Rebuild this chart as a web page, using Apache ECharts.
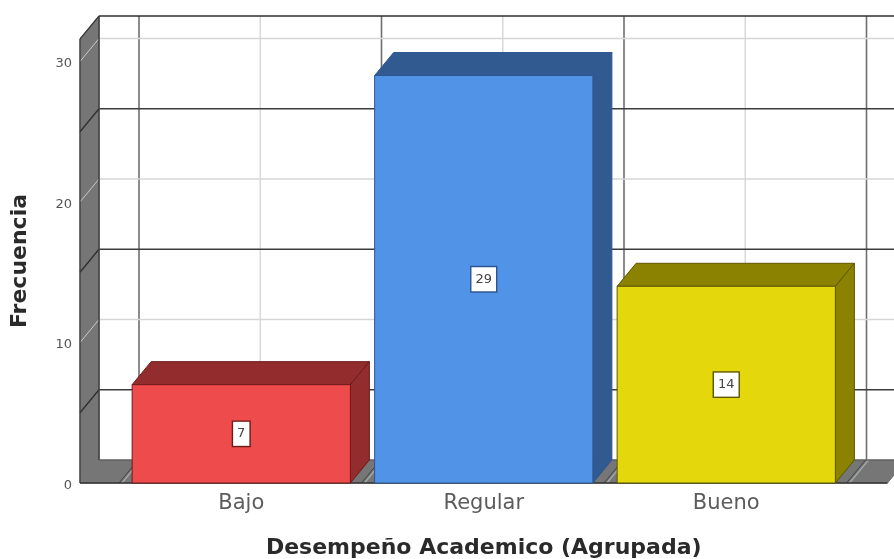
<!DOCTYPE html>
<html><head><meta charset="utf-8">
<style>html,body{margin:0;padding:0;background:#fff}#c{width:894px;height:559px}</style>
<script src="https://cdn.jsdelivr.net/npm/echarts@6/dist/echarts.min.js"></script>
</head><body><div id="c"></div>
<script>
const categories = ['Bajo', 'Regular', 'Bueno'];
const frecuencia = [7, 29, 14];
const frontColors = ['#ee4c4c', '#5193e6', '#e4d70c'];
const sideColors = ['#932c2c', '#315a90', '#8a8200'];
const edgeColors = ['#6e1a1a', '#2f5690', '#5c5600'];
const yTicks = [0, 10, 20, 30];
const darkRows = [5, 15, 25];
const lightRows = [10, 20, 30];
const yMax = 31.6;
const depthX = 19, depthY = -23;

const chart = echarts.init(document.getElementById('c'), null, {renderer: 'canvas'});

function line(x1, y1, x2, y2, stroke, w) {
  return {type: 'line', shape: {x1, y1, x2, y2}, style: {stroke, lineWidth: w}, silent: true};
}
function poly(points, fill, stroke) {
  return {type: 'polygon', shape: {points}, style: {fill, stroke, lineWidth: 1}, silent: true};
}

function renderRoom(params, api) {
  if (params.dataIndex !== 0) return null;
  const band = api.size([1, 0])[0];
  const x0 = api.coord([0, 0])[0] - band / 2;
  const yOf = v => api.coord([0, v])[1];
  const wallW = 40;
  const xL = x0 - wallW;
  const xEnd = x0 + band * categories.length + wallW;
  const yB = yOf(0), yT = yOf(yMax);
  const W = api.getWidth();
  const kids = [];
  kids.push({type: 'rect', shape: {x: xL + depthX, y: yT + depthY, width: xEnd - xL, height: yB - yT},
    style: {fill: '#fff'}, silent: true});
  for (let i = 0; i < categories.length; i++) {
    const c = x0 + band * (i + 0.5) + depthX;
    kids.push(line(c, yT + depthY, c, yB + depthY, '#d6d6d6', 1.4));
  }
  for (let i = 0; i <= categories.length; i++) {
    const e = x0 + band * i + depthX;
    kids.push(line(e, yT + depthY, e, yB + depthY, '#6f6f6f', 1.6));
  }
  lightRows.forEach(v => kids.push(line(xL + depthX, yOf(v) + depthY, W, yOf(v) + depthY, '#d6d6d6', 1.4)));
  darkRows.forEach(v => kids.push(line(xL + depthX, yOf(v) + depthY, W, yOf(v) + depthY, '#3c3c3c', 1.4)));
  kids.push(line(xL + depthX, yT + depthY, W, yT + depthY, '#2c2c2c', 1.6));
  kids.push(poly([[xL, yB], [xEnd, yB], [xEnd + depthX, yB + depthY], [xL + depthX, yB + depthY]], '#767676', '#767676'));
  for (let i = 0; i <= categories.length; i++) {
    const e = x0 + band * i;
    kids.push(line(e + 2, yB, e + 2 + depthX, yB + depthY, '#a0a8a8', 1.4));
    kids.push(line(e - 1, yB, e - 1 + depthX, yB + depthY, '#444', 1));
  }
  kids.push(poly([[xL, yB], [xL + depthX, yB + depthY], [xL + depthX, yT + depthY], [xL, yT]], '#767676', '#767676'));
  lightRows.forEach(v => kids.push(line(xL, yOf(v), xL + depthX, yOf(v) + depthY, '#c8c8c8', 1)));
  darkRows.forEach(v => kids.push(line(xL, yOf(v), xL + depthX, yOf(v) + depthY, '#2e2e2e', 1.3)));
  kids.push(line(xL, yB, xL, yT, '#3a3a3a', 1.2));
  kids.push(line(xL + depthX, yB + depthY, xL + depthX, yT + depthY, '#3a3a3a', 1.4));
  kids.push(line(xL, yT, xL + depthX, yT + depthY, '#3a3a3a', 1.2));
  kids.push(line(xL + depthX, yB + depthY, xEnd + depthX, yB + depthY, '#555', 1));
  kids.push(line(xL, yB, xEnd, yB, '#333', 1.5));
  return {type: 'group', children: kids};
}

function renderBar(params, api) {
  const i = params.dataIndex;
  const v = api.value(1);
  const w = api.size([1, 0])[0] * 0.9;
  const p = api.coord([i, v]);
  const b = api.coord([i, 0]);
  const l = p[0] - w / 2, r = p[0] + w / 2, t = p[1], y0 = b[1];
  const edge = edgeColors[i];
  return {type: 'group', children: [
    poly([[l, t], [r, t], [r + depthX, t + depthY], [l + depthX, t + depthY]], sideColors[i], edge),
    poly([[r, t], [r + depthX, t + depthY], [r + depthX, y0 + depthY], [r, y0]], sideColors[i], edge),
    poly([[l, t], [r, t], [r, y0], [l, y0]], frontColors[i], edge),
    {type: 'text', x: p[0], y: (t + y0) / 2, silent: true, style: {
      text: String(v), align: 'center', verticalAlign: 'middle',
      font: '13px "DejaVu Sans"', fill: '#444', backgroundColor: '#fff',
      borderColor: edge, borderWidth: 1.4, padding: [6, 4, 5, 4]
    }}
  ]};
}

chart.setOption({
  animation: false,
  backgroundColor: '#fff',
  grid: {left: 120, right: 46.5, top: 39, bottom: 76, outerBoundsMode: 'none'},
  xAxis: {
    type: 'category', data: categories,
    name: 'Desempeño Academico (Agrupada)', nameLocation: 'middle', nameGap: 54,
    nameTextStyle: {fontFamily: 'DejaVu Sans', fontWeight: 'bold', fontSize: 22, color: '#2a2a2a'},
    axisLine: {show: false}, axisTick: {show: false}, splitLine: {show: false},
    axisLabel: {fontFamily: 'DejaVu Sans', fontSize: 21, color: '#5c5c5c', margin: 10}
  },
  yAxis: {
    type: 'value', min: 0, max: yMax, interval: 10,
    name: 'Frecuencia', nameLocation: 'middle', nameGap: 89, nameRotate: 90,
    nameTextStyle: {fontFamily: 'DejaVu Sans', fontWeight: 'bold', fontSize: 22, color: '#2a2a2a'},
    axisLine: {show: false}, axisTick: {show: false}, splitLine: {show: false},
    axisLabel: {margin: 48, showMaxLabel: false,
      rich: {t: {fontFamily: 'DejaVu Sans', fontSize: 13, color: '#555', padding: [5, 0, 0, 0]}},
      formatter: v => yTicks.includes(v) ? '{t|' + v + '}' : ''}
  },
  series: [
    {type: 'custom', renderItem: renderRoom, clip: false, silent: true, z: 1,
      data: categories.map((c, i) => [i, frecuencia[i]])},
    {type: 'custom', renderItem: renderBar, clip: false, silent: true, z: 2,
      encode: {x: 0, y: 1},
      data: categories.map((c, i) => [i, frecuencia[i]])}
  ]
});
</script></body></html>
